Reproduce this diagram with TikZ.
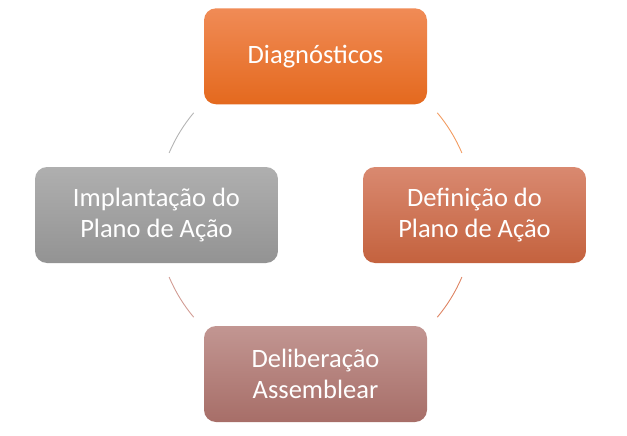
\documentclass[tikz,border=0pt]{standalone}
\usepackage{fontspec}
\setmainfont{Carlito}
\definecolor{dgTop}{HTML}{F08B56}
\definecolor{dgBot}{HTML}{E4691E}
\definecolor{dfTop}{HTML}{D98970}
\definecolor{dfBot}{HTML}{C4623E}
\definecolor{dlTop}{HTML}{C29692}
\definecolor{dlBot}{HTML}{A76E68}
\definecolor{imTop}{HTML}{AFAFAF}
\definecolor{imBot}{HTML}{939393}
\definecolor{arcGray}{HTML}{B4B4B4}
\definecolor{arcOrange}{HTML}{F29B60}
\definecolor{arcRed}{HTML}{DE8463}
\definecolor{arcPink}{HTML}{D29C94}
\tikzset{
  cyclebox/.style={rounded corners=12pt, minimum width=223pt, minimum height=96pt,
    inner sep=0pt, text=white, align=center,
    font=\fontsize{26.5pt}{31pt}\selectfont},
  cyclearc/.style={line width=0.9pt}
}
\begin{document}
\begin{tikzpicture}[x=1pt,y=-1pt]
\useasboundingbox (0,0) rectangle (627,436);
\coordinate (c) at (315.5,215);
\node[cyclebox, top color=dgTop, bottom color=dgBot] (diag) at (315.5,56.3) {Diagnósticos};
\node[cyclebox, top color=dfTop, bottom color=dfBot] (defi) at (474.5,215) {Definição do\\Plano de Ação};
\node[cyclebox, top color=dlTop, bottom color=dlBot] (deli) at (315.5,374) {Deliberação\\Assemblear};
\node[cyclebox, minimum width=243pt, top color=imTop, bottom color=imBot] (impl) at (156.5,215) {Implantação do\\Plano de Ação};
\draw[cyclearc, arcOrange] ([shift={(40:159pt)}]c) arc[start angle=40, end angle=23, radius=159pt];
\draw[cyclearc, arcRed] ([shift={(-23:159pt)}]c) arc[start angle=-23, end angle=-40, radius=159pt];
\draw[cyclearc, arcPink] ([shift={(-140:159pt)}]c) arc[start angle=-140, end angle=-157, radius=159pt];
\draw[cyclearc, arcGray] ([shift={(157:159pt)}]c) arc[start angle=157, end angle=140, radius=159pt];
\end{tikzpicture}
\end{document}
